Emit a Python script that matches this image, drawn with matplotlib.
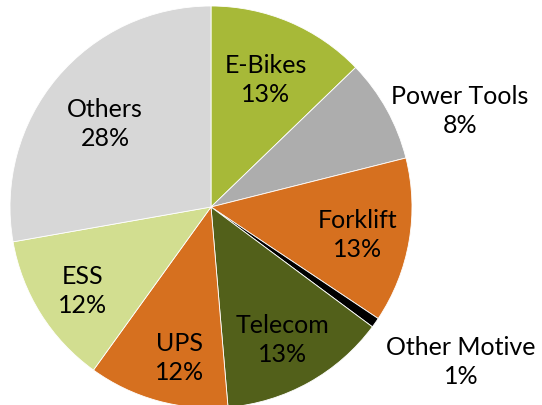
import matplotlib
matplotlib.use("Agg")
import matplotlib.pyplot as plt

# Data (wedge sizes as drawn; labels as printed on the chart)
categories = ["E-Bikes", "Power Tools", "Forklift", "Other Motive",
              "Telecom", "UPS", "ESS", "Others"]
values = [12.8, 8.3, 13.3, 0.8, 13.5, 11.3, 12.3, 27.8]
pct_labels = ["13%", "8%", "13%", "1%", "13%", "12%", "12%", "28%"]
colors = ["#A7B938", "#ADADAD", "#D6701F", "#000000",
          "#52601A", "#D6701F", "#D2DE90", "#D7D7D7"]

# label block centres in pixel coords of the reference (x, y from top-left)
label_px = [(266, 80), (460, 111), (358, 235), (461, 362),
            (283, 340), (180, 358), (83, 291), (105, 124)]

W, H = 542, 406
cx, cy, R = 211, 208, 201

plt.rcParams['font.family'] = ['Lato', 'DejaVu Sans']

fig = plt.figure(figsize=(W / 100, H / 100), dpi=100)
ax = fig.add_axes([0, 0, 1, 1])
ax.pie(values, colors=colors, startangle=90, counterclock=False,
       radius=1.0, center=(0, 0),
       wedgeprops=dict(edgecolor="white", linewidth=0.6))
ax.set_xlim(-cx / R, (W - cx) / R)
ax.set_ylim(-(H - cy) / R, cy / R)
ax.set_aspect('auto')
ax.axis('off')

for name, pct, (px, py) in zip(categories, pct_labels, label_px):
    x = (px - cx) / R
    y = (cy - py) / R
    ax.text(x, y, f"{name}\n{pct}", ha="center", va="center",
            fontsize=18, color="black", linespacing=1.3)

fig.savefig("out.png", dpi=100)
